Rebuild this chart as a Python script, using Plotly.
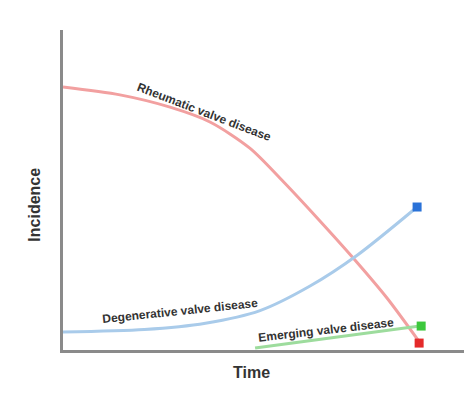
import plotly.graph_objects as go

# ── Data (time in arbitrary units 0-100, incidence 0-100) ──────────────────────
rheum_t = [0, 14.0, 26.3, 36.1, 45.9, 54.1, 62.4, 71.3, 79.6, 87.2]
rheum_y = [83.5, 81.0, 77.1, 72.4, 64.1, 53.5, 42.0, 29.2, 16.5, 3.2]

degen_t = [0, 20.0, 35.0, 48.4, 60.7, 72.2, 87.0]
degen_y = [5.7, 6.5, 8.5, 12.5, 20.3, 30.0, 45.4]

emerg_t = [47.2, 87.7]
emerg_y = [0.6, 7.6]

# end-point markers
end_t = [87.0, 88.0, 87.5]
end_y = [45.4, 7.6, 2.2]

# ── Colours ────────────────────────────────────────────────────────────────────
RED_LINE = "#f2a0a0"
BLUE_LINE = "#a9cbea"
GREEN_LINE = "#9ddc9d"
AXIS = "#8a8a8a"
TEXT = "#333333"
FONT = "Arial, Liberation Sans"

fig = go.Figure()

for t, y, col in [(rheum_t, rheum_y, RED_LINE),
                  (degen_t, degen_y, BLUE_LINE),
                  (emerg_t, emerg_y, GREEN_LINE)]:
    fig.add_trace(go.Scatter(
        x=t, y=y, mode="lines",
        line=dict(color=col, width=3, shape="spline", smoothing=0.8),
        hoverinfo="skip", showlegend=False,
    ))

fig.add_trace(go.Scatter(
    x=end_t, y=end_y, mode="markers",
    marker=dict(symbol="square", size=9,
                color=["#2a72d8", "#3cc83c", "#e42a2a"]),
    hoverinfo="skip", showlegend=False,
))

labels = [
    ("Rheumatic valve disease", 34.6, 75.6, 21),
    ("Degenerative valve disease", 28.7, 12.4, -6),
    ("Emerging valve disease", 64.6, 6.3, -6.5),
]
for txt, x, y, ang in labels:
    fig.add_annotation(
        x=x, y=y, text=f"<b>{txt}</b>", showarrow=False, textangle=ang,
        font=dict(family=FONT, size=12, color=TEXT),
    )

# axis titles
fig.add_annotation(x=0.462, y=-0.103, xref="paper", yref="paper", text="<b>Time</b>",
                   showarrow=False, font=dict(family=FONT, size=16, color=TEXT))
fig.add_annotation(x=-0.098, y=0.453, xref="paper", yref="paper", text="<b>Incidence</b>",
                   textangle=-90, showarrow=False, font=dict(family=FONT, size=16, color=TEXT))

fig.update_layout(
    width=472, height=394,
    margin=dict(l=55, r=10, t=22, b=52),
    plot_bgcolor="white", paper_bgcolor="white",
    xaxis=dict(range=[0, 100], showline=True, linecolor=AXIS, linewidth=3,
               showgrid=False, zeroline=False, showticklabels=False, ticks="",
               automargin=False),
    yaxis=dict(range=[0, 101.6], showline=True, linecolor=AXIS, linewidth=3,
               showgrid=False, zeroline=False, showticklabels=False, ticks="",
               automargin=False),
)

fig.write_html("out.html")
